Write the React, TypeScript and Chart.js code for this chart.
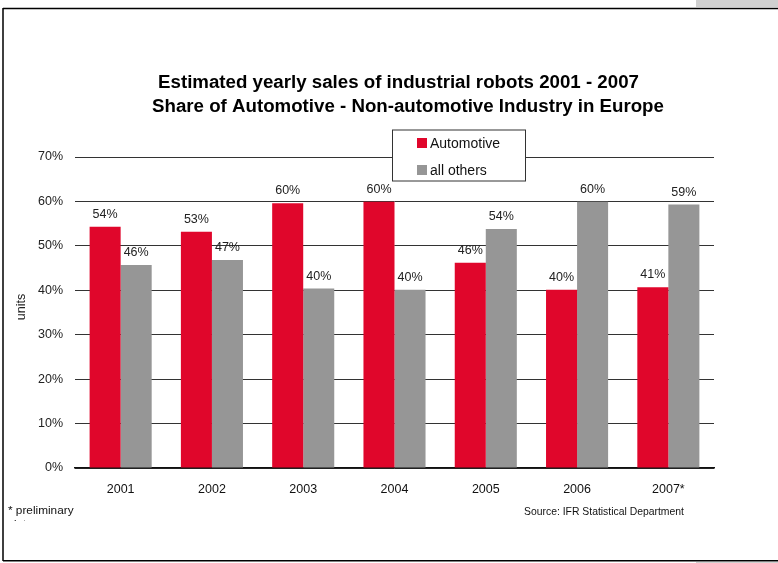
import { useEffect, useRef } from "react";
import { Chart, registerables } from "chart.js";
Chart.register(...registerables);

const categories = ["2001", "2002", "2003", "2004", "2005", "2006", "2007*"];
const automotive = [54.3, 53.2, 59.6, 59.9, 46.2, 40.1, 40.7];
const allOthers = [45.7, 46.8, 40.4, 40.1, 53.8, 59.9, 59.3];
const seriesNames = ["Automotive", "all others"];
const seriesColors = ["#E0062B", "#969696"];
const titleLines = [
  "Estimated yearly sales of industrial robots 2001 - 2007",
  "Share of Automotive - Non-automotive Industry in Europe",
];
const yAxisTitle = "units";
const footNote = "* preliminary";
const footNote2 = "data";
const sourceNote = "Source: IFR Statistical Department";

const FONT = "'Liberation Sans', Arial, Helvetica, sans-serif";

const decorPlugin = {
  id: "decor",
  beforeDraw(chart: any) {
    const ctx = chart.ctx;
    ctx.save();
    ctx.fillStyle = "#ffffff";
    ctx.fillRect(0, 0, chart.width, chart.height);
    ctx.fillStyle = "#d0d0d0";
    ctx.fillRect(696, 0, 82, 7);
    ctx.fillRect(696, 562, 82, 1);
    ctx.strokeStyle = "#000000";
    ctx.lineWidth = 1.5;
    ctx.beginPath();
    ctx.moveTo(3, 8.5);
    ctx.lineTo(778, 8.5);
    ctx.moveTo(3, 8);
    ctx.lineTo(3, 561);
    ctx.moveTo(3, 560.75);
    ctx.lineTo(778, 560.75);
    ctx.stroke();
    ctx.restore();
  },
  afterDraw(chart: any) {
    const ctx = chart.ctx;
    ctx.save();
    // Title
    ctx.fillStyle = "#000000";
    ctx.font = `bold 18.7px ${FONT}`;
    ctx.textAlign = "center";
    ctx.textBaseline = "alphabetic";
    ctx.fillText(titleLines[0], 398.5, 88);
    ctx.fillText(titleLines[1], 408, 112);

    // Data labels
    ctx.font = `12.5px ${FONT}`;
    ctx.fillStyle = "#222222";
    chart.data.datasets.forEach((ds: any, di: number) => {
      const meta = chart.getDatasetMeta(di);
      meta.data.forEach((el: any, i: number) => {
        const v = ds.data[i];
        ctx.fillText(`${Math.round(v)}%`, el.x, el.y - 9);
      });
    });

    // Y axis title
    ctx.save();
    ctx.translate(25, 307);
    ctx.rotate(-Math.PI / 2);
    ctx.font = `12.5px ${FONT}`;
    ctx.fillStyle = "#222222";
    ctx.textAlign = "center";
    ctx.fillText(yAxisTitle, 0, 0);
    ctx.restore();

    // Legend
    const lx = 392.5, ly = 130, lw = 133, lh = 51;
    ctx.fillStyle = "#ffffff";
    ctx.fillRect(lx, ly, lw, lh);
    ctx.strokeStyle = "#333333";
    ctx.lineWidth = 1;
    ctx.strokeRect(lx, ly, lw, lh);
    ctx.textAlign = "left";
    ctx.font = `14px ${FONT}`;
    seriesNames.forEach((name, i) => {
      const y = 138 + i * 27;
      ctx.fillStyle = seriesColors[i];
      ctx.fillRect(417, y, 10, 10);
      ctx.fillStyle = "#111111";
      ctx.fillText(name, 430, y + 10);
    });

    // Footnotes
    ctx.fillStyle = "#111111";
    ctx.font = `11.8px ${FONT}`;
    ctx.fillText(footNote, 8, 514);
    ctx.save();
    ctx.beginPath();
    ctx.rect(0, 517, 200, 4);
    ctx.clip();
    ctx.fillText(footNote2, 10, 528);
    ctx.restore();
    ctx.font = `10.4px ${FONT}`;
    ctx.fillText(sourceNote, 524, 515);
    ctx.restore();
  },
};

export default function App() {
  const ref = useRef<HTMLCanvasElement | null>(null);
  useEffect(() => {
    if (!ref.current) return;
    const chart = new Chart(ref.current, {
      type: "bar",
      data: {
        labels: categories,
        datasets: [
          {
            label: seriesNames[0],
            data: automotive,
            backgroundColor: seriesColors[0],
            borderWidth: 0,
            barPercentage: 1,
            categoryPercentage: 0.68,
          },
          {
            label: seriesNames[1],
            data: allOthers,
            backgroundColor: seriesColors[1],
            borderWidth: 0,
            barPercentage: 1,
            categoryPercentage: 0.68,
          },
        ],
      },
      options: {
        responsive: false,
        animation: false,
        devicePixelRatio: 1,
        layout: { padding: { left: 0, right: 64, top: 157, bottom: 65 } },
        plugins: {
          legend: { display: false },
          title: { display: false },
          tooltip: { enabled: false },
        },
        scales: {
          x: {
            grid: { display: false, drawTicks: false },
            border: { display: true, color: "#111111", width: 1.5 },
            ticks: {
              padding: 14,
              color: "#111111",
              font: { family: FONT, size: 12.5 },
            },
            afterFit: (s: any) => {
              s.height = 30;
            },
          },
          y: {
            min: 0,
            max: 70,
            ticks: {
              stepSize: 10,
              padding: 12,
              color: "#222222",
              font: { family: FONT, size: 12.5 },
              callback: (v: any) => `${v}%`,
            },
            grid: {
              drawTicks: false,
              color: "#333333",
              lineWidth: 1,
            },
            border: { display: false },
            afterFit: (s: any) => {
              s.width = 75;
            },
          },
        },
      },
      plugins: [decorPlugin],
    } as any);
    return () => chart.destroy();
  }, []);
  return (
    <div style={{ position: "fixed", left: 0, top: 0, width: 778, height: 563 }}>
      <canvas ref={ref} width={778} height={563} style={{ display: "block" }} />
    </div>
  );
}
